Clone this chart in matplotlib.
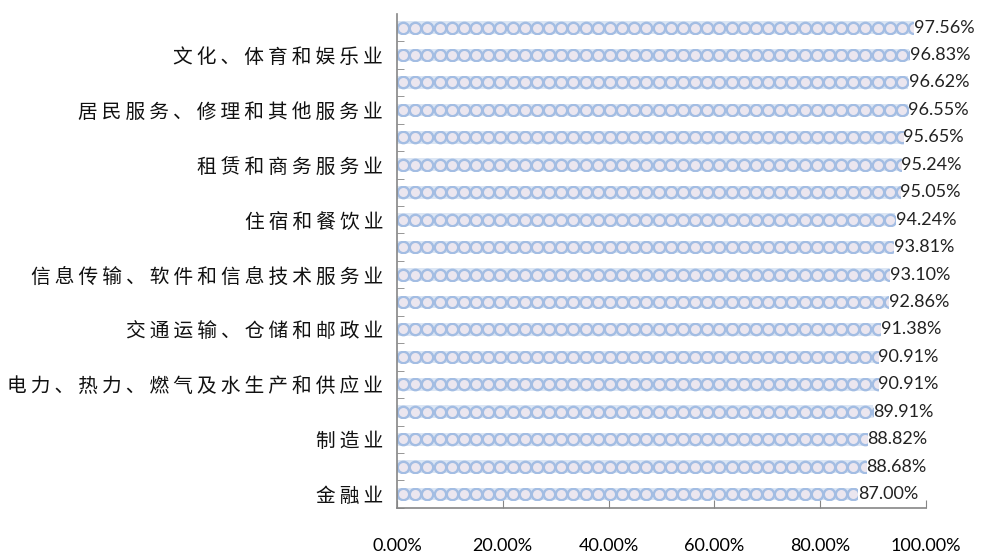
import numpy as np
import matplotlib.pyplot as plt
import matplotlib.ticker as mticker

plt.rcParams['font.family'] = ['Noto Sans CJK SC', 'DejaVu Sans']

# categories bottom to top (only every other one is labelled in the chart)
categories = ['金融业', '', '制造业', '', '电力、热力、燃气及水生产和供应业', '',
              '交通运输、仓储和邮政业', '', '信息传输、软件和信息技术服务业', '',
              '住宿和餐饮业', '', '租赁和商务服务业', '', '居民服务、修理和其他服务业', '',
              '文化、体育和娱乐业', '']
values = [87.00, 88.68, 88.82, 89.91, 90.91, 90.91, 91.38, 92.86, 93.10,
          93.81, 94.24, 95.05, 95.24, 95.65, 96.55, 96.62, 96.83, 97.56]
x_ticks = [0, 20, 40, 60, 80, 100]

fig = plt.figure(figsize=(9.85, 5.55), dpi=100)
ax = fig.add_axes([0.403, 0.085, 0.537, 0.89])

pos = list(range(len(values)))
bars = ax.barh(pos, values, height=0.46, color='#dce6f4', linewidth=0)

# chain-of-circles texture inside each bar, clipped to the bar
step = 2.3
for bar, p, v in zip(bars, pos, values):
    xs = np.arange(step / 2, v + step, step)
    ln, = ax.plot(xs, [p] * len(xs), ls='none', marker='o', ms=8.2,
                  mfc='#ebe6ef', mec='#a3bde3', mew=1.7)
    ln.set_clip_path(bar)

for p, v in zip(pos, values):
    ax.text(v + 0.1, p, f'{v:.2f}%', va='center', ha='left', fontsize=13,
            family='Lato', color='#222222')

ax.set_xlim(0, 100)
ax.set_ylim(-0.5, len(values) - 0.5)

# slightly letter-spaced labels like the original
ax.set_yticks(pos)
ax.set_yticklabels(['\u2009'.join(c) for c in categories], fontsize=14.2,
                   color='#111111')
ax.tick_params(axis='y', length=0, pad=10)
ax.set_yticks([p - 0.5 for p in pos], minor=True)
ax.tick_params(axis='y', which='minor', direction='in', length=5, color='#868686')

ax.set_xticks(x_ticks)
ax.xaxis.set_major_formatter(mticker.FuncFormatter(lambda v, _: f'{v:.2f}%'))
ax.tick_params(axis='x', direction='in', length=6, color='#868686', pad=22,
               labelsize=13)
for lab in ax.get_xticklabels():
    lab.set_family('Lato')

for s in ['top', 'right']:
    ax.spines[s].set_visible(False)
for s in ['left', 'bottom']:
    ax.spines[s].set_color('#868686')
    ax.spines[s].set_linewidth(1.2)

fig.savefig('out.png', dpi=100)
